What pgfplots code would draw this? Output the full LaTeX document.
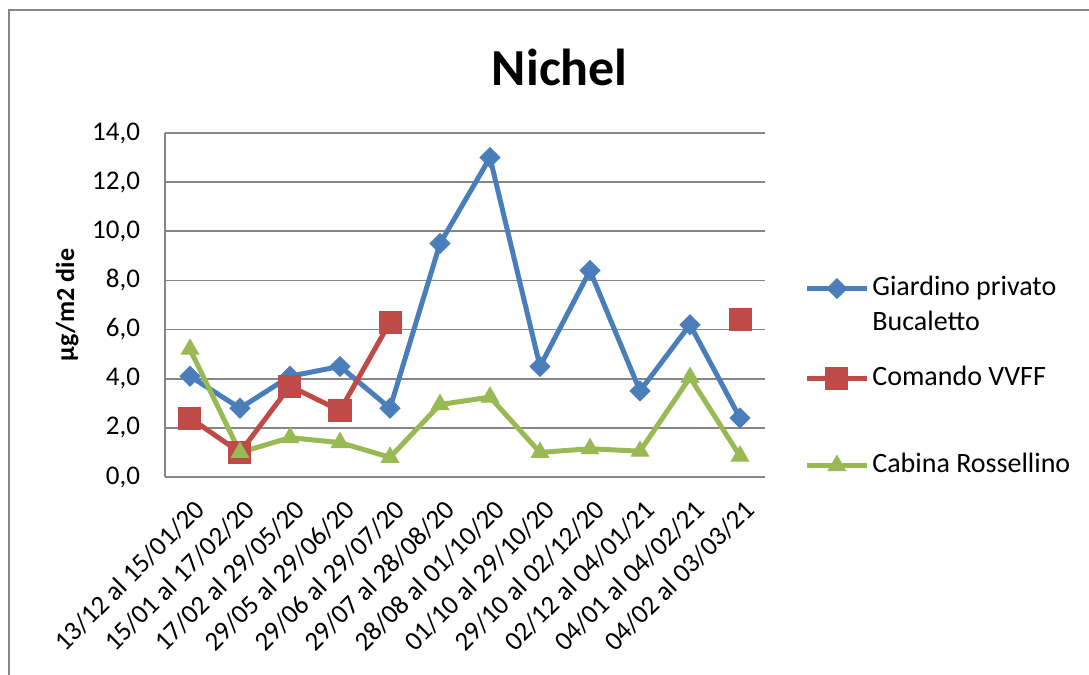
\documentclass[border=0pt]{standalone}
\usepackage{fontspec}
\setmainfont{Carlito}
\usepackage{pgfplots}
\usepackage{pgfplotstable}
\pgfplotsset{compat=1.18}
\definecolor{serblue}{HTML}{4A7EBB}
\definecolor{serred}{HTML}{BE4B48}
\definecolor{sergreen}{HTML}{98B954}
\definecolor{gridgray}{HTML}{868686}

% Nichel deposition, three stations (nan = no sample)
\pgfplotstableread{
x  blue  red  green
0  4.1   2.4  5.2
1  2.8   1.0  1.0
2  4.1   3.7  1.6
3  4.5   2.7  1.4
4  2.8   6.3  0.8
5  9.5   nan  2.95
6  13.0  nan  3.25
7  4.5   nan  1.0
8  8.4   nan  1.15
9  3.5   nan  1.05
10 6.2   nan  4.05
11 2.4   6.4  0.85
}\datatable

\newcommand{\lrow}[1]{\rule[-4pt]{0pt}{#1}}

\begin{document}
\begin{tikzpicture}[x=1pt,y=1pt]
\path[use as bounding box] (0,0) rectangle (544.5,337.5);
\draw[gridgray, line width=0.8pt] (4.5,0) -- (4.5,332.5) -- (544.5,332.5);
\begin{axis}[
  scale only axis, width=300pt, height=172pt,
  at={(82.5pt,99pt)}, anchor=south west,
  xmin=-0.5, xmax=11.5, ymin=0, ymax=14,
  ytick={0,2,...,14},
  xtick={0,...,11},
  xticklabels={13/12 al 15/01/20,15/01 al 17/02/20,17/02 al 29/05/20,29/05 al 29/06/20,29/06 al 29/07/20,29/07 al 28/08/20,28/08 al 01/10/20,01/10 al 29/10/20,29/10 al 02/12/20,02/12 al 04/01/21,04/01 al 04/02/21,04/02 al 03/03/21},
  axis x line*=bottom, axis y line*=left,
  axis line style={gridgray, line width=0.8pt, -},
  ymajorgrids, grid style={gridgray, line width=0.8pt},
  major tick length=0pt,
  /pgf/number format/.cd, use comma, fixed, fixed zerofill, precision=1, assume math mode=true, /pgfplots/.cd,
  yticklabel style={font=\fontsize{13.5}{16}\selectfont, xshift=-9pt},
  xticklabel style={font=\fontsize{13.5}{16}\selectfont, rotate=45, anchor=north east, xshift=-3pt, yshift=-5pt},
  ylabel={\textbf{µg/m2 die}},
  ylabel style={font=\fontsize{13}{16}\selectfont, at={(axis description cs:-0.163,0.5)}, anchor=center},
  title={\textbf{Nichel}},
  title style={font=\fontsize{26}{30}\selectfont, at={(axis description cs:0.658,1.155)}, anchor=center},
  unbounded coords=jump,
  legend style={draw=none, fill=none, at={(1.065,0.594)}, anchor=north west,
    inner sep=0pt, row sep=0pt, nodes={inner sep=1.5pt},
    font=\fontsize{14}{17.5}\selectfont, cells={anchor=base west}},
  legend image code/.code={\draw[#1, mark repeat=2, mark phase=2, yshift=3.5pt] plot coordinates {(0pt,0pt)(15pt,0pt)(30pt,0pt)};},
]
\addplot[serblue, line width=2.5pt, mark=square*, mark size=3.5pt, mark options={rotate=45, solid, line width=0.5pt}]
  table[x=x, y=blue] {\datatable};
\addlegendentry{\lrow{11pt}Giardino privato}
\addlegendimage{empty legend}
\addlegendentry{\lrow{17pt}Bucaletto}
\addplot[serred, line width=2.5pt, mark=square*, mark size=5.5pt, mark options={solid, line width=0.5pt}]
  table[x=x, y=red] {\datatable};
\addlegendentry{\lrow{27pt}Comando VVFF}
\addplot[sergreen, line width=2.5pt, mark=triangle*, mark size=5pt, mark options={solid, line width=0.5pt}]
  table[x=x, y=green] {\datatable};
\addlegendentry{\lrow{43pt}Cabina Rossellino}
\end{axis}
\end{tikzpicture}
\end{document}
